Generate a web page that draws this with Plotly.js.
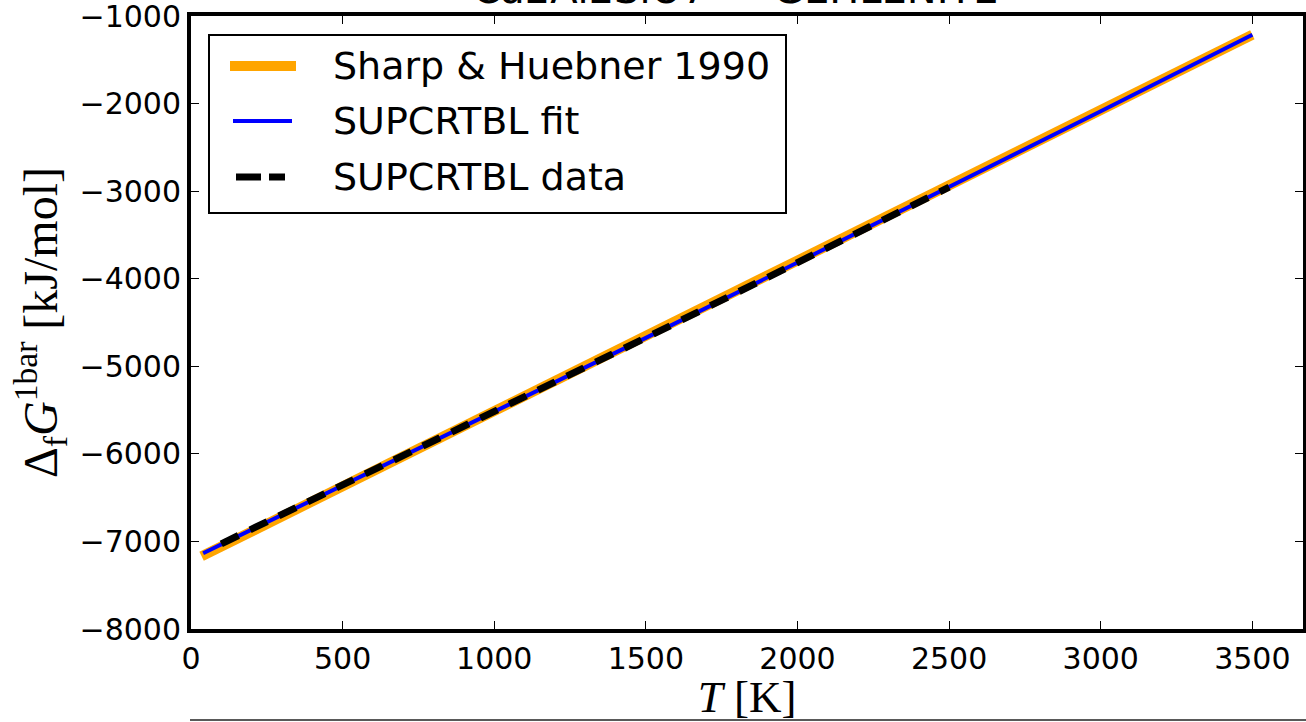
<!DOCTYPE html>
<html>
<head>
<meta charset="utf-8">
<script src="https://cdn.plot.ly/plotly-3.0.1.min.js"></script>
<style>html,body{margin:0;padding:0;background:#fff;}#chart{width:1306px;height:722px;}</style>
</head>
<body>
<div id="chart"></div>
<script>
// Sharp & Huebner 1990
const shT = [35, 500, 1000, 1500, 2000, 2500, 3000, 3500];
const shG = [-7170, -6371, -5512, -4652, -3793, -2934, -2075, -1215];
// SUPCRTBL fit
const fitT = [40, 500, 1000, 1500, 2000, 2500, 3000, 3500];
const fitG = [-7135, -6360, -5530, -4675, -3815, -2955, -2088, -1215];
// SUPCRTBL data
const dataT = [100, 500, 1000, 1500, 2000, 2500];
const dataG = [-7027, -6360, -5530, -4675, -3815, -2955];

const seriesNames = ['Sharp & Huebner 1990', 'SUPCRTBL fit', 'SUPCRTBL data'];
const xTicks = [0, 500, 1000, 1500, 2000, 2500, 3000, 3500];
const yTicks = [-8000, -7000, -6000, -5000, -4000, -3000, -2000, -1000];

const styles = [
  {color: '#FFA500', width: 10},
  {color: '#0000FF', width: 4},
  {color: '#000000', width: 7, dash: '19px,13px'}
];

const traces = [
  {x: shT, y: shG, mode: 'lines', name: seriesNames[0], line: styles[0]},
  {x: fitT, y: fitG, mode: 'lines', name: seriesNames[1], line: styles[1]},
  {x: dataT, y: dataG, mode: 'lines', name: seriesNames[2], line: styles[2]}
];

// plot area in pixels: left 191, top 16, width 1112, height 613
const L = 191, T = 16, W = 1112, H = 613;
const px = v => (v - L) / W;
const py = v => 1 - (v - T) / H;

const tickFont = {family: 'DejaVu Sans', size: 30, color: '#000'};
const axCommon = {
  showline: true, linewidth: 4, linecolor: '#000', mirror: 'ticks',
  ticks: 'inside', ticklen: 8, tickwidth: 1, tickcolor: '#000',
  showgrid: false, zeroline: false, tickfont: tickFont, ticklabeloverflow: 'allow'
};

// manual legend (box, samples, labels)
const legRows = [66, 121, 177];
const legSample = [[230, 296], [233, 292], [236, 285]];
const shapes = [
  {type: 'rect', xref: 'paper', yref: 'paper', x0: px(209), x1: px(786), y0: py(213), y1: py(35),
   fillcolor: '#fff', line: {color: '#000', width: 2}, layer: 'above'}
];
const legStyles = [styles[0], styles[1], {color: '#000', width: 7, dash: '25px,8px'}];
legRows.forEach((r, i) => {
  shapes.push({type: 'line', xref: 'paper', yref: 'paper',
    x0: px(legSample[i][0]), x1: px(legSample[i][1]), y0: py(r), y1: py(r),
    line: legStyles[i], layer: 'above'});
});
shapes.push({type: 'line', xref: 'paper', yref: 'paper', x0: px(190), x1: px(1310), y0: py(720), y1: py(720),
  line: {color: '#222', width: 1.5}});

const annotations = legRows.map((r, i) => ({
  xref: 'paper', yref: 'paper', x: px(331), y: py(r), xanchor: 'left', yanchor: 'middle',
  text: seriesNames[i].replace('&', '&amp;'), showarrow: false,
  font: {family: 'DejaVu Sans', size: 38, color: '#000'}
}));

const layout = {
  width: 1306, height: 722,
  margin: {l: L, r: 1306 - L - W, t: T, b: 722 - T - H},
  paper_bgcolor: '#fff', plot_bgcolor: '#fff',
  showlegend: false,
  title: {text: 'Ca2Al2SiO7 — GEHLENITE', font: {family: 'DejaVu Sans', size: 40, color: '#000'},
          x: 0.563, xanchor: 'center', y: 0.996, yref: 'container', yanchor: 'bottom'},
  xaxis: Object.assign({}, axCommon, {
    range: [0, 3667], tickmode: 'array', tickvals: xTicks, ticktext: xTicks.map(String),
    title: {text: '<i>T</i> [K]', font: {family: 'Liberation Serif', size: 45, color: '#000'}, standoff: 14}
  }),
  yaxis: Object.assign({}, axCommon, {
    range: [-8000, -1000], tickmode: 'array', tickvals: yTicks,
    ticktext: yTicks.map(v => '\u2212' + Math.abs(v)),
    title: {text: 'Δ<sub>f</sub><i>G</i><sup>1bar</sup> [kJ/mol]', font: {family: 'Liberation Serif', size: 48, color: '#000'}, standoff: 8}
  }),
  shapes: shapes,
  annotations: annotations
};

Plotly.newPlot('chart', traces, layout, {displayModeBar: false, staticPlot: true});
</script>
</body>
</html>
